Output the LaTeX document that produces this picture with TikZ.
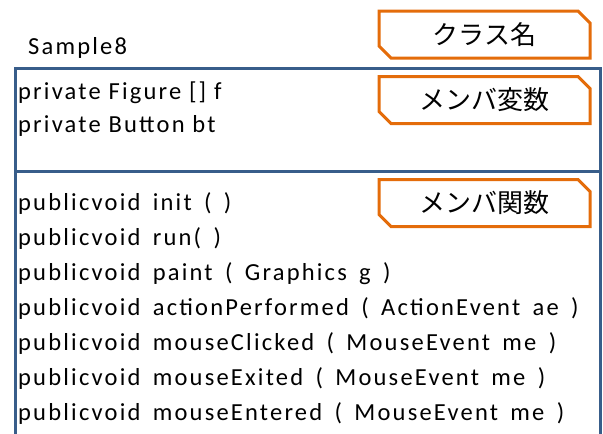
\documentclass[tikz,border=0pt]{standalone}
\usepackage{fontspec}
\setmainfont{Carlito}[LetterSpace=9]
\newfontfamily\methfont{Carlito}[LetterSpace=9,WordSpace=1.6]
\newfontfamily\jpfont{Noto Sans CJK JP}
\usetikzlibrary{shapes.misc}
\definecolor{frameblue}{RGB}{56,93,138}
\definecolor{tagorange}{RGB}{228,108,10}
\tikzset{
  tag/.style={chamfered rectangle, chamfered rectangle corners={north east,south west},
    chamfered rectangle xsep=6pt, chamfered rectangle ysep=6pt,
    draw=tagorange, line width=3pt, fill=white, minimum width=211pt, minimum height=47pt,
    inner sep=0pt, font=\jpfont\fontsize{26}{30}\selectfont},
  code/.style={anchor=base west, inner sep=0pt, font=\fontsize{24.5}{30}\selectfont},
  meth/.style={code, font=\methfont\fontsize{24.5}{30}\selectfont},
  frame/.style={draw=frameblue, line width=3pt}
}
\begin{document}
\begin{tikzpicture}[x=1pt,y=-1pt]
\useasboundingbox (0,0) rectangle (603,434);
\coordinate (bl) at (15,440);
\coordinate (tl) at (15,68);
\coordinate (tr) at (600,68);
\coordinate (br) at (600,440);
\coordinate (dl) at (15,171);
\coordinate (dr) at (600,171);
\draw[frame] (bl) -- (tl) -- (tr) -- (br);
\draw[frame] (dl) -- (dr);
\node[code] (name) at (28,54) {Sample8};
\node[code] (v1) at (18,99) {private Figure [] f};
\node[code] (v2) at (18,132) {private Button bt};
\node[meth] (m1) at (18,210) {publicvoid init ( )};
\node[meth] (m2) at (18,245) {publicvoid run( )};
\node[meth] (m3) at (18,280) {publicvoid paint ( Graphics g )};
\node[meth] (m4) at (18,315) {publicvoid actionPerformed ( ActionEvent ae )};
\node[meth] (m5) at (18,350) {publicvoid mouseClicked ( MouseEvent me )};
\node[meth] (m6) at (18,385) {publicvoid mouseExited ( MouseEvent me )};
\node[meth] (m7) at (18,420) {publicvoid mouseEntered ( MouseEvent me )};
\node[tag] (t1) at (484.5,34.5) {クラス名};
\node[tag] (t2) at (484.5,100) {メンバ変数};
\node[tag] (t3) at (484.5,203) {メンバ関数};
\end{tikzpicture}
\end{document}
